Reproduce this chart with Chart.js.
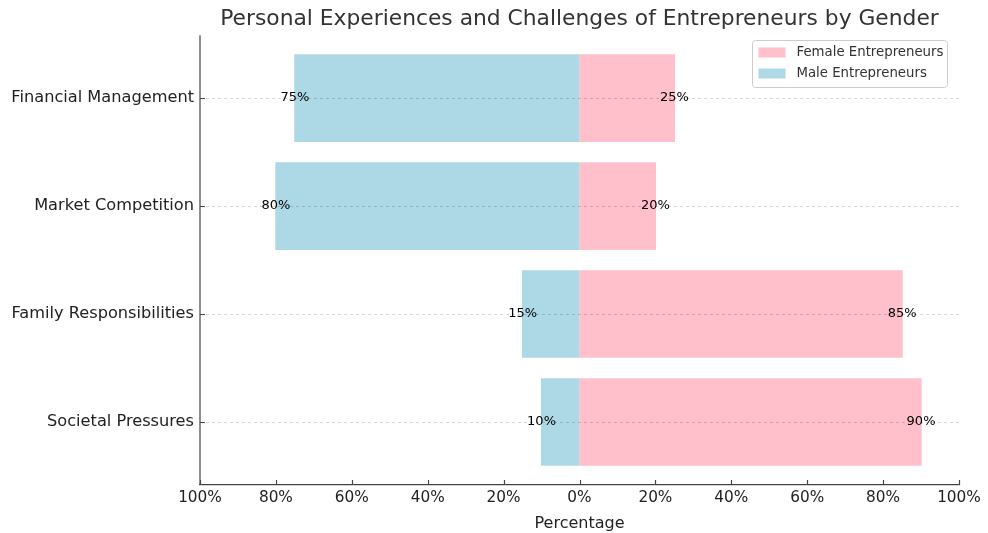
<!DOCTYPE html>
<html>
<head>
<meta charset="utf-8">
<script src="https://cdn.jsdelivr.net/npm/chart.js@4.4.1/dist/chart.umd.min.js"></script>
<style>
  html, body { margin: 0; padding: 0; background: #fff; }
  #wrap { width: 988px; height: 533px; }
</style>
</head>
<body>
<div id="wrap"><canvas id="chart"></canvas></div>
<script>
// data
const challenges = ["Financial Management", "Market Competition", "Family Responsibilities", "Societal Pressures"];
const femalePct = [25, 20, 85, 90];
const malePct = [75, 80, 15, 10];
const xTicks = [-100, -80, -60, -40, -20, 0, 20, 40, 60, 80, 100];

const FONT = "'DejaVu Sans', sans-serif";

// value labels at the end of each bar
const barLabels = {
    id: "barLabels",
    afterDraw(chart) {
        const ctx = chart.ctx;
        ctx.save();
        ctx.font = "13px " + FONT;
        ctx.fillStyle = "#000";
        ctx.textAlign = "center";
        ctx.textBaseline = "middle";
        chart.data.datasets.forEach((ds, i) => {
            chart.getDatasetMeta(i).data.forEach((bar, j) => {
                ctx.fillText(Math.abs(ds.data[j].x) + "%", bar.x, bar.y);
            });
        });
        ctx.restore();
    }
};

// left spine, inward tick marks + legend box in upper right
const extras = {
    id: "extras",
    afterDraw(chart) {
        const ctx = chart.ctx;
        const a = chart.chartArea;
        const xs = chart.scales.x, ys = chart.scales.y;
        ctx.save();
        ctx.strokeStyle = "#444";
        ctx.lineWidth = 1.2;
        ctx.beginPath();
        ctx.moveTo(a.left, a.top);
        ctx.lineTo(a.left, a.bottom);
        xs.ticks.forEach(t => {
            const px = Math.round(xs.getPixelForValue(t.value)) + 0.5;
            ctx.moveTo(px, a.bottom);
            ctx.lineTo(px, a.bottom - 5);
        });
        ys.ticks.forEach(t => {
            const py = Math.round(ys.getPixelForValue(t.value)) + 0.5;
            ctx.moveTo(a.left, py);
            ctx.lineTo(a.left + 5, py);
        });
        ctx.stroke();

        // legend
        const bx = 752.5, by = 40.5, bw = 195, bh = 47;
        ctx.fillStyle = "rgba(255,255,255,0.85)";
        ctx.strokeStyle = "#cccccc";
        ctx.lineWidth = 1;
        ctx.beginPath();
        ctx.roundRect(bx, by, bw, bh, 3);
        ctx.fill();
        ctx.stroke();
        ctx.font = "13.3px " + FONT;
        ctx.textBaseline = "middle";
        ctx.textAlign = "left";
        chart.data.datasets.forEach((ds, i) => {
            const rowY = by + 12 + i * 21;
            ctx.fillStyle = ds.backgroundColor;
            ctx.fillRect(bx + 6, rowY - 5, 27, 10);
            ctx.fillStyle = "#333";
            ctx.fillText(ds.label, bx + 44, rowY);
        });
        ctx.restore();
    }
};

const ctx = document.getElementById("chart").getContext("2d");
new Chart(ctx, {
    type: "bar",
    data: {
        datasets: [
            {
                label: "Female Entrepreneurs",
                data: femalePct.map((v, i) => ({ x: v, y: i })),
                backgroundColor: "#FFC0CB"
            },
            {
                label: "Male Entrepreneurs",
                data: malePct.map((v, i) => ({ x: -v, y: i })),
                backgroundColor: "#ADD8E6"
            }
        ]
    },
    options: {
        indexAxis: "y",
        responsive: true,
        maintainAspectRatio: false,
        animation: false,
        grouped: false,
        barPercentage: 0.8,
        categoryPercentage: 1,
        inflateAmount: 0.6,
        layout: { padding: { left: 0, right: 29, top: 0, bottom: 0 } },
        scales: {
            x: {
                type: "linear",
                min: -100,
                max: 100,
                afterBuildTicks: scale => { scale.ticks = xTicks.map(v => ({ value: v })); },
                afterFit: scale => { scale.height = 48; },
                ticks: {
                    callback: v => Math.abs(v) + "%",
                    font: { family: FONT, size: 15.3 },
                    color: "#222",
                    padding: 4,
                    maxRotation: 0
                },
                grid: { drawOnChartArea: false, drawTicks: false },
                border: { color: "#444", width: 1.2 },
                title: {
                    display: true,
                    text: "Percentage",
                    font: { family: FONT, size: 16 },
                    color: "#222",
                    padding: { top: 1, bottom: 0 }
                }
            },
            y: {
                type: "linear",
                reverse: true,
                offset: false,
                min: -0.583,
                max: challenges.length - 0.417,
                afterBuildTicks: scale => { scale.ticks = challenges.map((c, i) => ({ value: i })); },
                afterFit: scale => { scale.width = 200; },
                ticks: {
                    callback: v => challenges[v],
                    font: { family: FONT, size: 16.2 },
                    color: "#222",
                    padding: 6
                },
                // grid drawn above the bars, like the reference
                grid: { z: 1, color: "rgba(0,0,0,0.2)", lineWidth: 0.8, drawTicks: false, offset: false },
                border: { display: false, dash: [3, 3] }
            }
        },
        plugins: {
            legend: { display: false },
            tooltip: { enabled: false },
            title: {
                display: true,
                fullSize: false,
                text: "Personal Experiences and Challenges of Entrepreneurs by Gender",
                font: { family: FONT, size: 21.8, weight: "normal" },
                color: "#333",
                padding: { top: 6, bottom: 3 }
            }
        }
    },
    plugins: [barLabels, extras]
});
</script>
</body>
</html>
